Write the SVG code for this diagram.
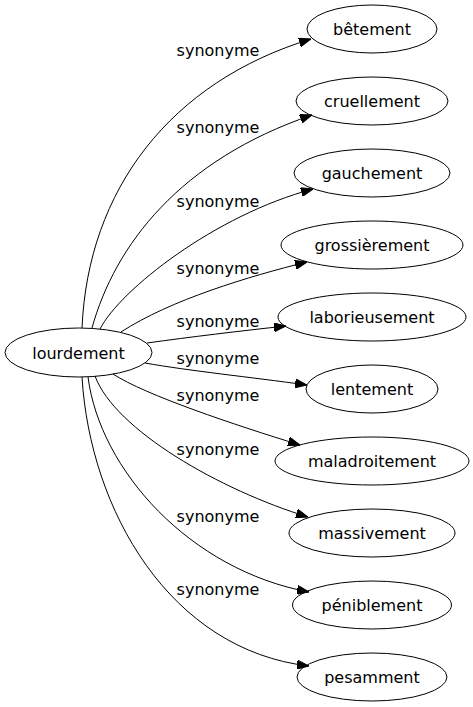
<svg xmlns="http://www.w3.org/2000/svg" width="473" height="707" viewBox="0 0 473 707">
<defs>
<style>
.n ellipse{fill:none;stroke:#000;stroke-width:1}
text{font-family:"DejaVu Sans","Liberation Sans",sans-serif;font-size:16px;fill:#000;text-anchor:middle}
.e path{fill:none;stroke:#000;stroke-width:1;marker-end:url(#arr)}
</style>
<marker id="arr" markerUnits="userSpaceOnUse" markerWidth="12" markerHeight="9" refX="12" refY="4.5" orient="auto">
<path d="M0,0 L12,4.5 L0,9 z" fill="#000" stroke="#000" stroke-width="1"/>
</marker>
</defs>
<rect width="473" height="707" fill="#fff"/>
<g id="edges" class="e">
<path d="M82,328 C88,190 170,82 311,39"/>
<path d="M92,328 C115,245 180,160 312,115"/>
<path d="M100,329 C120,290 215,215 313,189"/>
<path d="M121,332 C170,300 250,276 307,262"/>
<path d="M147,343 C190,337 240,331 286,326"/>
<path d="M145,363 C190,371 250,377 307,385"/>
<path d="M113,374 C145,395 235,425 300,445"/>
<path d="M95,376 C115,430 220,490 308,517"/>
<path d="M88,377 C100,470 190,570 309,592"/>
<path d="M82,377 C90,510 170,650 309,666"/>
<text x="218" y="56">synonyme</text>
<text x="218" y="133">synonyme</text>
<text x="218" y="207">synonyme</text>
<text x="218" y="274">synonyme</text>
<text x="218" y="327">synonyme</text>
<text x="218" y="364">synonyme</text>
<text x="218" y="401">synonyme</text>
<text x="218" y="455">synonyme</text>
<text x="218" y="522">synonyme</text>
<text x="218" y="595">synonyme</text>
</g>
<g id="lourdement" class="n"><ellipse cx="78.5" cy="352.5" rx="73.5" ry="24.5"/><text x="78.5" y="359">lourdement</text></g>
<g id="betement" class="n"><ellipse cx="372" cy="29" rx="65" ry="24"/><text x="372" y="35">bêtement</text></g>
<g id="cruellement" class="n"><ellipse cx="372" cy="101" rx="76" ry="24"/><text x="372" y="107">cruellement</text></g>
<g id="gauchement" class="n"><ellipse cx="372" cy="173" rx="78" ry="24"/><text x="372" y="179">gauchement</text></g>
<g id="grossierement" class="n"><ellipse cx="372" cy="245" rx="91" ry="24"/><text x="372" y="251">grossièrement</text></g>
<g id="laborieusement" class="n"><ellipse cx="372" cy="317" rx="94" ry="24"/><text x="372" y="323">laborieusement</text></g>
<g id="lentement" class="n"><ellipse cx="372" cy="389" rx="66" ry="24"/><text x="372" y="395">lentement</text></g>
<g id="maladroitement" class="n"><ellipse cx="372" cy="461" rx="97" ry="24"/><text x="372" y="467">maladroitement</text></g>
<g id="massivement" class="n"><ellipse cx="372" cy="533" rx="83" ry="24"/><text x="372" y="539">massivement</text></g>
<g id="peniblement" class="n"><ellipse cx="372" cy="605" rx="79.5" ry="24"/><text x="372" y="611">péniblement</text></g>
<g id="pesamment" class="n"><ellipse cx="372" cy="677" rx="75" ry="24"/><text x="372" y="683">pesamment</text></g>
</svg>
